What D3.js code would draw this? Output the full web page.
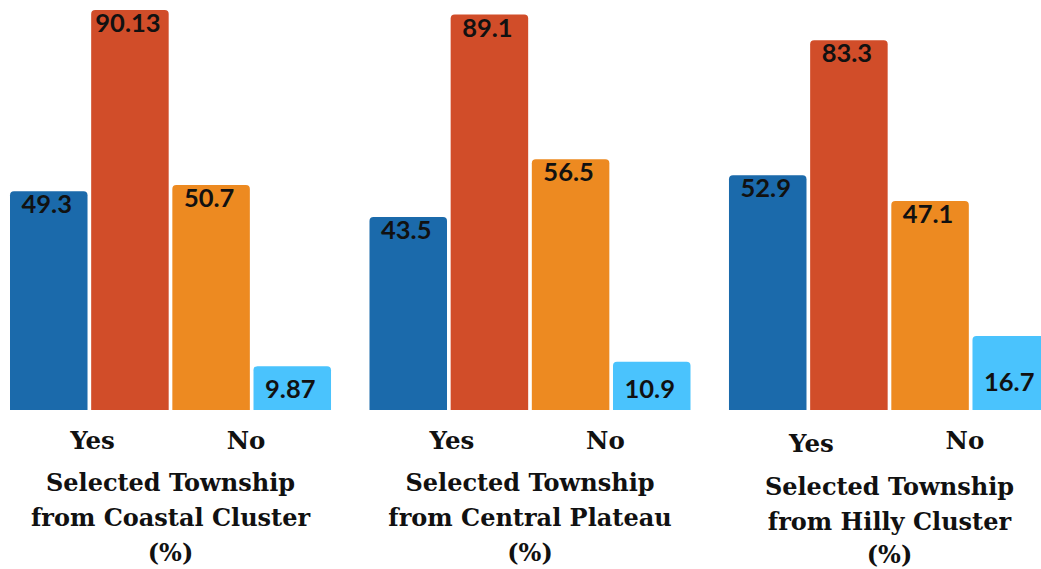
<!DOCTYPE html>
<html>
<head>
<meta charset="utf-8">
<script src="https://cdn.jsdelivr.net/npm/d3@7"></script>
<style>
  html, body { margin: 0; padding: 0; background: #fff; }
  svg { display: block; }
</style>
</head>
<body>
<svg id="chart" width="1041" height="569"></svg>
<script>
// ---- data ----
const groups = ["Coastal Cluster", "Central Plateau", "Hilly Cluster"];
const groupTitles = [
  ["Selected Township", "from Coastal Cluster", "(%)"],
  ["Selected Township", "from Central Plateau", "(%)"],
  ["Selected Township", "from Hilly Cluster", "(%)"]
];
const series = ["Yes A", "Yes B", "No A", "No B"];
const answerLabels = ["Yes", "No"];
const valuesYesA = [49.3, 43.5, 52.9];
const valuesYesB = [90.13, 89.1, 83.3];
const valuesNoA = [50.7, 56.5, 47.1];
const valuesNoB = [9.87, 10.9, 16.7];
const labelsYesA = ["49.3", "43.5", "52.9"];
const labelsYesB = ["90.13", "89.1", "83.3"];
const labelsNoA = ["50.7", "56.5", "47.1"];
const labelsNoB = ["9.87", "10.9", "16.7"];

const colors = ["#1b6aab", "#d14d29", "#ed8a21", "#4ac3fd"];

const seriesValues = [valuesYesA, valuesYesB, valuesNoA, valuesNoB];
const seriesLabels = [labelsYesA, labelsYesB, labelsNoA, labelsNoB];

const rows = [];
groups.forEach((g, gi) => {
  series.forEach((s, si) => {
    rows.push({ group: g, gi, series: s, si, value: seriesValues[si][gi], label: seriesLabels[si][gi] });
  });
});

// ---- scales ----
const svg = d3.select("#chart");
const baseY = 410;
const y = d3.scaleLinear().domain([0, 90.13]).range([baseY, 10]);
const x0 = d3.scaleBand().domain(groups).range([10, 1050]).paddingInner(0.107).paddingOuter(0);
const x1 = d3.scaleBand().domain(series).range([0, x0.bandwidth()]).paddingInner(0.045).paddingOuter(0);
const xa = d3.scalePoint().domain(answerLabels).range([82.5, 236]);

const r = 4;
function barPath(x, yTop, w, yBot) {
  const p = d3.path();
  p.moveTo(x, yBot);
  p.lineTo(x, yTop + r);
  p.arcTo(x, yTop, x + r, yTop, r);
  p.lineTo(x + w - r, yTop);
  p.arcTo(x + w, yTop, x + w, yTop + r, r);
  p.lineTo(x + w, yBot);
  p.closePath();
  return p.toString();
}

const g = svg.append("g");

g.selectAll("path.bar")
  .data(rows)
  .join("path")
  .attr("class", "bar")
  .attr("d", d => barPath(x0(d.group) + x1(d.series), y(d.value), x1.bandwidth(), y(0)))
  .attr("fill", d => colors[d.si]);

// value labels
g.selectAll("text.val")
  .data(rows)
  .join("text")
  .attr("class", "val")
  .attr("x", d => x0(d.group) + x1(d.series) + x1.bandwidth() / 2 - 2)
  .attr("y", d => {
    if (d.si === 3) return y(0) - (d.gi === 2 ? 19 : 12);
    return y(d.value) + 22;
  })
  .attr("text-anchor", "middle")
  .attr("font-family", "Lato, 'Noto Sans', sans-serif")
  .attr("font-weight", "bold")
  .attr("font-size", 25.5)
  .attr("fill", "#111")
  .text(d => d.label);

// answer labels (Yes / No)
groups.forEach((grp, gi) => {
  g.selectAll(null)
    .data(answerLabels)
    .join("text")
    .attr("x", d => x0(grp) + xa(d))
    .attr("y", d => 449 + (gi === 2 ? (d === "Yes" ? 3 : 0) : 0))
    .attr("text-anchor", "middle")
    .attr("font-family", "'DejaVu Serif', serif")
    .attr("font-weight", "bold")
    .attr("font-size", 24.5)
    .attr("fill", "#111")
    .text(d => d);

  const cx = x0(grp) + x0.bandwidth() / 2;
  const tdy = gi === 2 ? 4 : 0;
  g.selectAll(null)
    .data(groupTitles[gi])
    .join("text")
    .attr("x", cx)
    .attr("y", (d, i) => 491 + tdy + i * 35 - (gi === 2 && i === 2 ? 2 : 0))
    .attr("text-anchor", "middle")
    .attr("font-family", "'DejaVu Serif', serif")
    .attr("font-weight", "bold")
    .attr("font-size", 24)
    .attr("fill", "#111")
    .text(d => d);
});
</script>
</body>
</html>
